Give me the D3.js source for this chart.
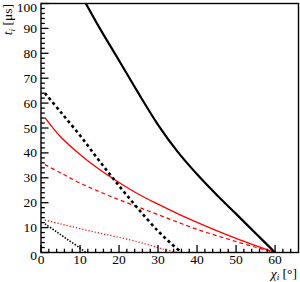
<!DOCTYPE html>
<html><head><meta charset="utf-8">
<script src="https://cdn.jsdelivr.net/npm/d3@7"></script>
<style>body{margin:0;background:#fff}svg{display:block}</style>
</head><body><svg id="c" width="300" height="282"></svg>
<script>
// data (x = chi_i in degrees, y = t_i in microseconds)
const blackSolidX = [11.5, 15, 20, 25, 30, 35, 40, 45, 50, 55, 60];
const blackSolidY = [100, 90.2, 77.1, 63.9, 51.3, 40.5, 31.4, 23.2, 15.5, 7.7, 0];
const blackDashX = [1, 5, 10, 15, 20, 25, 30, 33, 36];
const blackDashY = [64, 56.5, 47, 36.7, 26.8, 17.4, 8.6, 4.1, 0];
const redSolidX = [1, 5, 10, 15, 20, 25, 30, 35, 40, 45, 50, 55, 60];
const redSolidY = [54.2, 46.5, 39.4, 33.3, 28.1, 23.4, 19.4, 15.6, 12.1, 8.8, 5.7, 2.8, 0];
const redDashX = [1, 5, 10, 15, 20, 25, 30, 35, 40, 45, 50, 55, 60];
const redDashY = [35.3, 32, 27.9, 24.4, 21.2, 18.2, 15.2, 12.2, 9.3, 6.8, 4.4, 2.1, 0];
const redDotX = [1, 5, 10, 15, 20, 25, 28, 31, 35];
const redDotY = [13, 11.5, 9.6, 7.8, 6.1, 4.2, 2.9, 1.5, 0];
const blackDotX = [1, 4, 7, 10, 11.5];
const blackDotY = [11.5, 8.3, 5, 1.8, 0];
const xTicks = [0, 10, 20, 30, 40, 50, 60];
const yTicks = [0, 10, 20, 30, 40, 50, 60, 70, 80, 90, 100];

const FONT = "Liberation Serif, Times New Roman, DejaVu Serif, serif";
const L = 41, R = 298.5, T = 3.5, B = 252.5;
const x = d3.scaleLinear().domain([0, 66]).range([L, R]);
const y = d3.scaleLinear().domain([0, 100]).range([B, T]);
const svg = d3.select("#c");

svg.append("clipPath").attr("id", "clp").append("rect")
  .attr("x", L).attr("y", T).attr("width", R - L).attr("height", B - T);

function curve(xs, ys, color, w, dash) {
  const pts = xs.map((v, i) => [v, ys[i]]);
  const line = d3.line().x(d => x(d[0])).y(d => y(d[1])).curve(d3.curveCatmullRom.alpha(0.5));
  const p = svg.append("path").attr("d", line(pts)).attr("fill", "none")
    .attr("stroke", color).attr("stroke-width", w).attr("clip-path", "url(#clp)");
  if (dash) p.attr("stroke-dasharray", dash);
}
curve(redDotX, redDotY, "#ff0000", 1.2, "1.2,2");
curve(redDashX, redDashY, "#ff0000", 1.2, "4,3");
curve(redSolidX, redSolidY, "#ff0000", 1.3, null);
curve(blackDotX, blackDotY, "#000", 1.6, "1.5,1.5");
curve(blackDashX, blackDashY, "#000", 2.6, "3,3");
curve(blackSolidX, blackSolidY, "#000", 2.2, null);

// ticks inside the frame
const gx = svg.append("g");
d3.range(0, 66, 2).forEach(v => {
  const major = v % 10 === 0;
  gx.append("line").attr("x1", x(v)).attr("x2", x(v)).attr("y1", B).attr("y2", B - (major ? 7.5 : 3.8))
    .attr("stroke", "#000").attr("stroke-width", 1.3);
});
xTicks.forEach(v => {
  svg.append("text").attr("x", x(v)).attr("y", 264).attr("text-anchor", "middle")
    .style("font-family", FONT).attr("font-size", 13.5).text(v);
});
const gy = svg.append("g");
d3.range(0, 101, 2).forEach(v => {
  const major = v % 10 === 0;
  gy.append("line").attr("x1", L).attr("x2", L + (major ? 7.5 : 3.8)).attr("y1", y(v)).attr("y2", y(v))
    .attr("stroke", "#000").attr("stroke-width", 1.3);
});
yTicks.forEach(v => {
  svg.append("text").attr("x", 37).attr("y", y(v) + (v === 0 ? 7 : (v === 100 ? 8.3 : 4.5))).attr("text-anchor", "end")
    .style("font-family", FONT).attr("font-size", 13.5).text(v);
});

// frame
svg.append("rect").attr("x", L).attr("y", T).attr("width", R - L).attr("height", B - T)
  .attr("fill", "none").attr("stroke", "#000").attr("stroke-width", 1.4);

// titles
const yt = svg.append("text").attr("transform", "translate(12,4) rotate(-90)")
  .attr("text-anchor", "end").style("font-family", FONT).attr("font-size", 13.5);
yt.append("tspan").attr("font-style", "italic").text("t");
yt.append("tspan").attr("font-style", "italic").attr("font-size", 9).attr("dy", 3).text("i");
yt.append("tspan").attr("dy", -3).text(" [μs]");

const xt = svg.append("text").attr("x", 297).attr("y", 277.5).attr("text-anchor", "end")
  .style("font-family", FONT).attr("font-size", 13.5);
xt.append("tspan").attr("font-style", "italic").text("χ");
xt.append("tspan").attr("font-style", "italic").attr("font-size", 9).attr("dy", 2.5).text("i");
xt.append("tspan").attr("dy", -2.5).text(" [°]");
</script></body></html>
